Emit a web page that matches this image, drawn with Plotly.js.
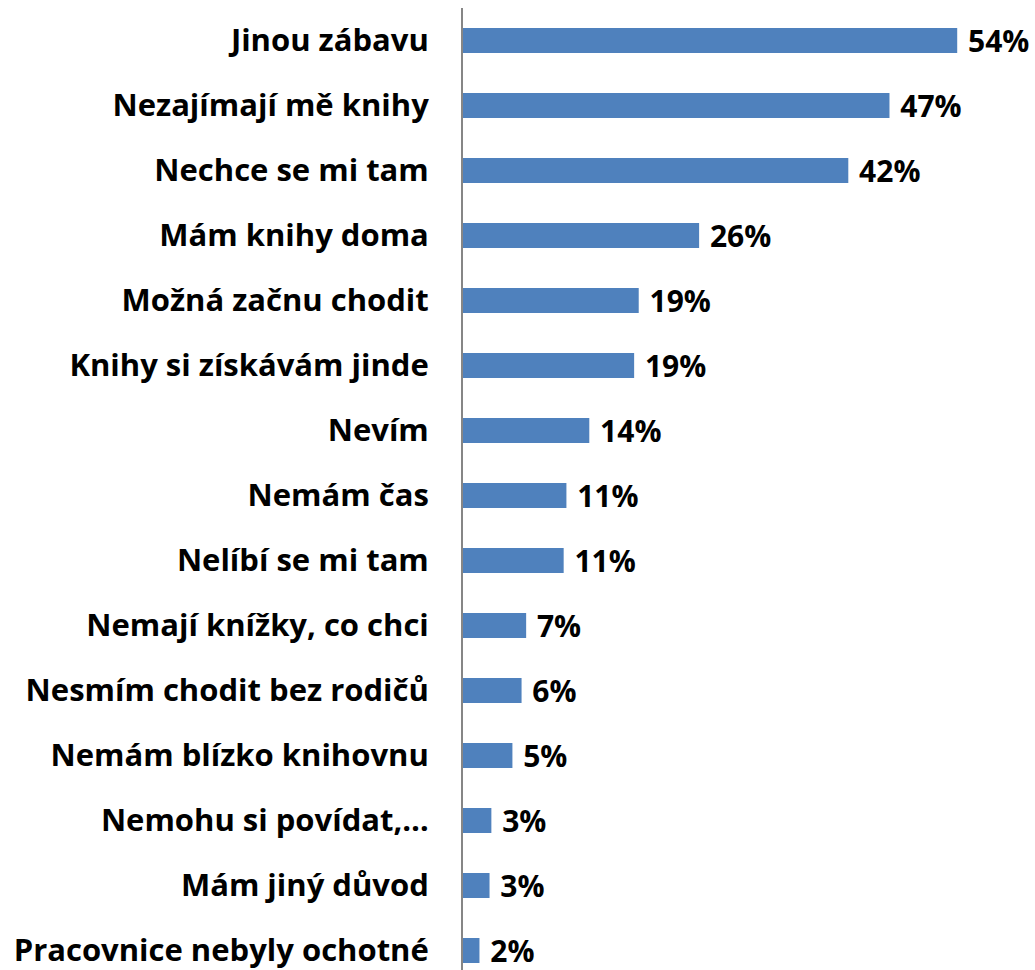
<!DOCTYPE html>
<html><head><meta charset="utf-8">
<script src="https://cdn.plot.ly/plotly-3.0.1.min.js"></script>
<style>html,body{margin:0;padding:0;background:#fff}#chart{width:1035px;height:970px}</style>
</head><body><div id="chart"></div>
<script>
const categories = ["Jinou zábavu","Nezajímají mě knihy","Nechce se mi tam","Mám knihy doma","Možná začnu chodit","Knihy si získávám jinde","Nevím","Nemám čas","Nelíbí se mi tam","Nemají knížky, co chci","Nesmím chodit bez rodičů","Nemám blízko knihovnu","Nemohu si povídat,…","Mám jiný důvod","Pracovnice nebyly ochotné"];
const values = [54, 46.6, 42.1, 25.8, 19.2, 18.7, 13.8, 11.3, 11.0, 6.9, 6.4, 5.4, 3.1, 2.9, 1.8];
const valueLabels = ["54%","47%","42%","26%","19%","19%","14%","11%","11%","7%","6%","5%","3%","3%","2%"];

const font = "'Open Sans', Lato, sans-serif";
Plotly.newPlot('chart', [{
  type: 'bar', orientation: 'h',
  y: categories, x: values,
  text: valueLabels, texttemplate: ' %{text}', textposition: 'outside',
  cliponaxis: false, constraintext: 'none',
  textfont: {family: font, size: 30, color: '#000', weight: 'bold'},
  marker: {color: '#4F81BD'},
  hoverinfo: 'none'
}], {
  width: 1035, height: 970,
  margin: {l: 463, r: 0, t: 8, b: 0},
  paper_bgcolor: '#fff', plot_bgcolor: '#fff',
  bargap: 0.615,
  showlegend: false,
  xaxis: {range: [0, 62.5], visible: false, fixedrange: true},
  yaxis: {type: 'category', range: [14.3, -0.5], showline: true, linecolor: '#868686', linewidth: 2,
          showgrid: false, zeroline: false, ticks: '', ticklabelstandoff: 26,
          tickfont: {family: font, size: 31, color: '#000', weight: 'bold'}}
}, {staticPlot: true});
</script></body></html>
